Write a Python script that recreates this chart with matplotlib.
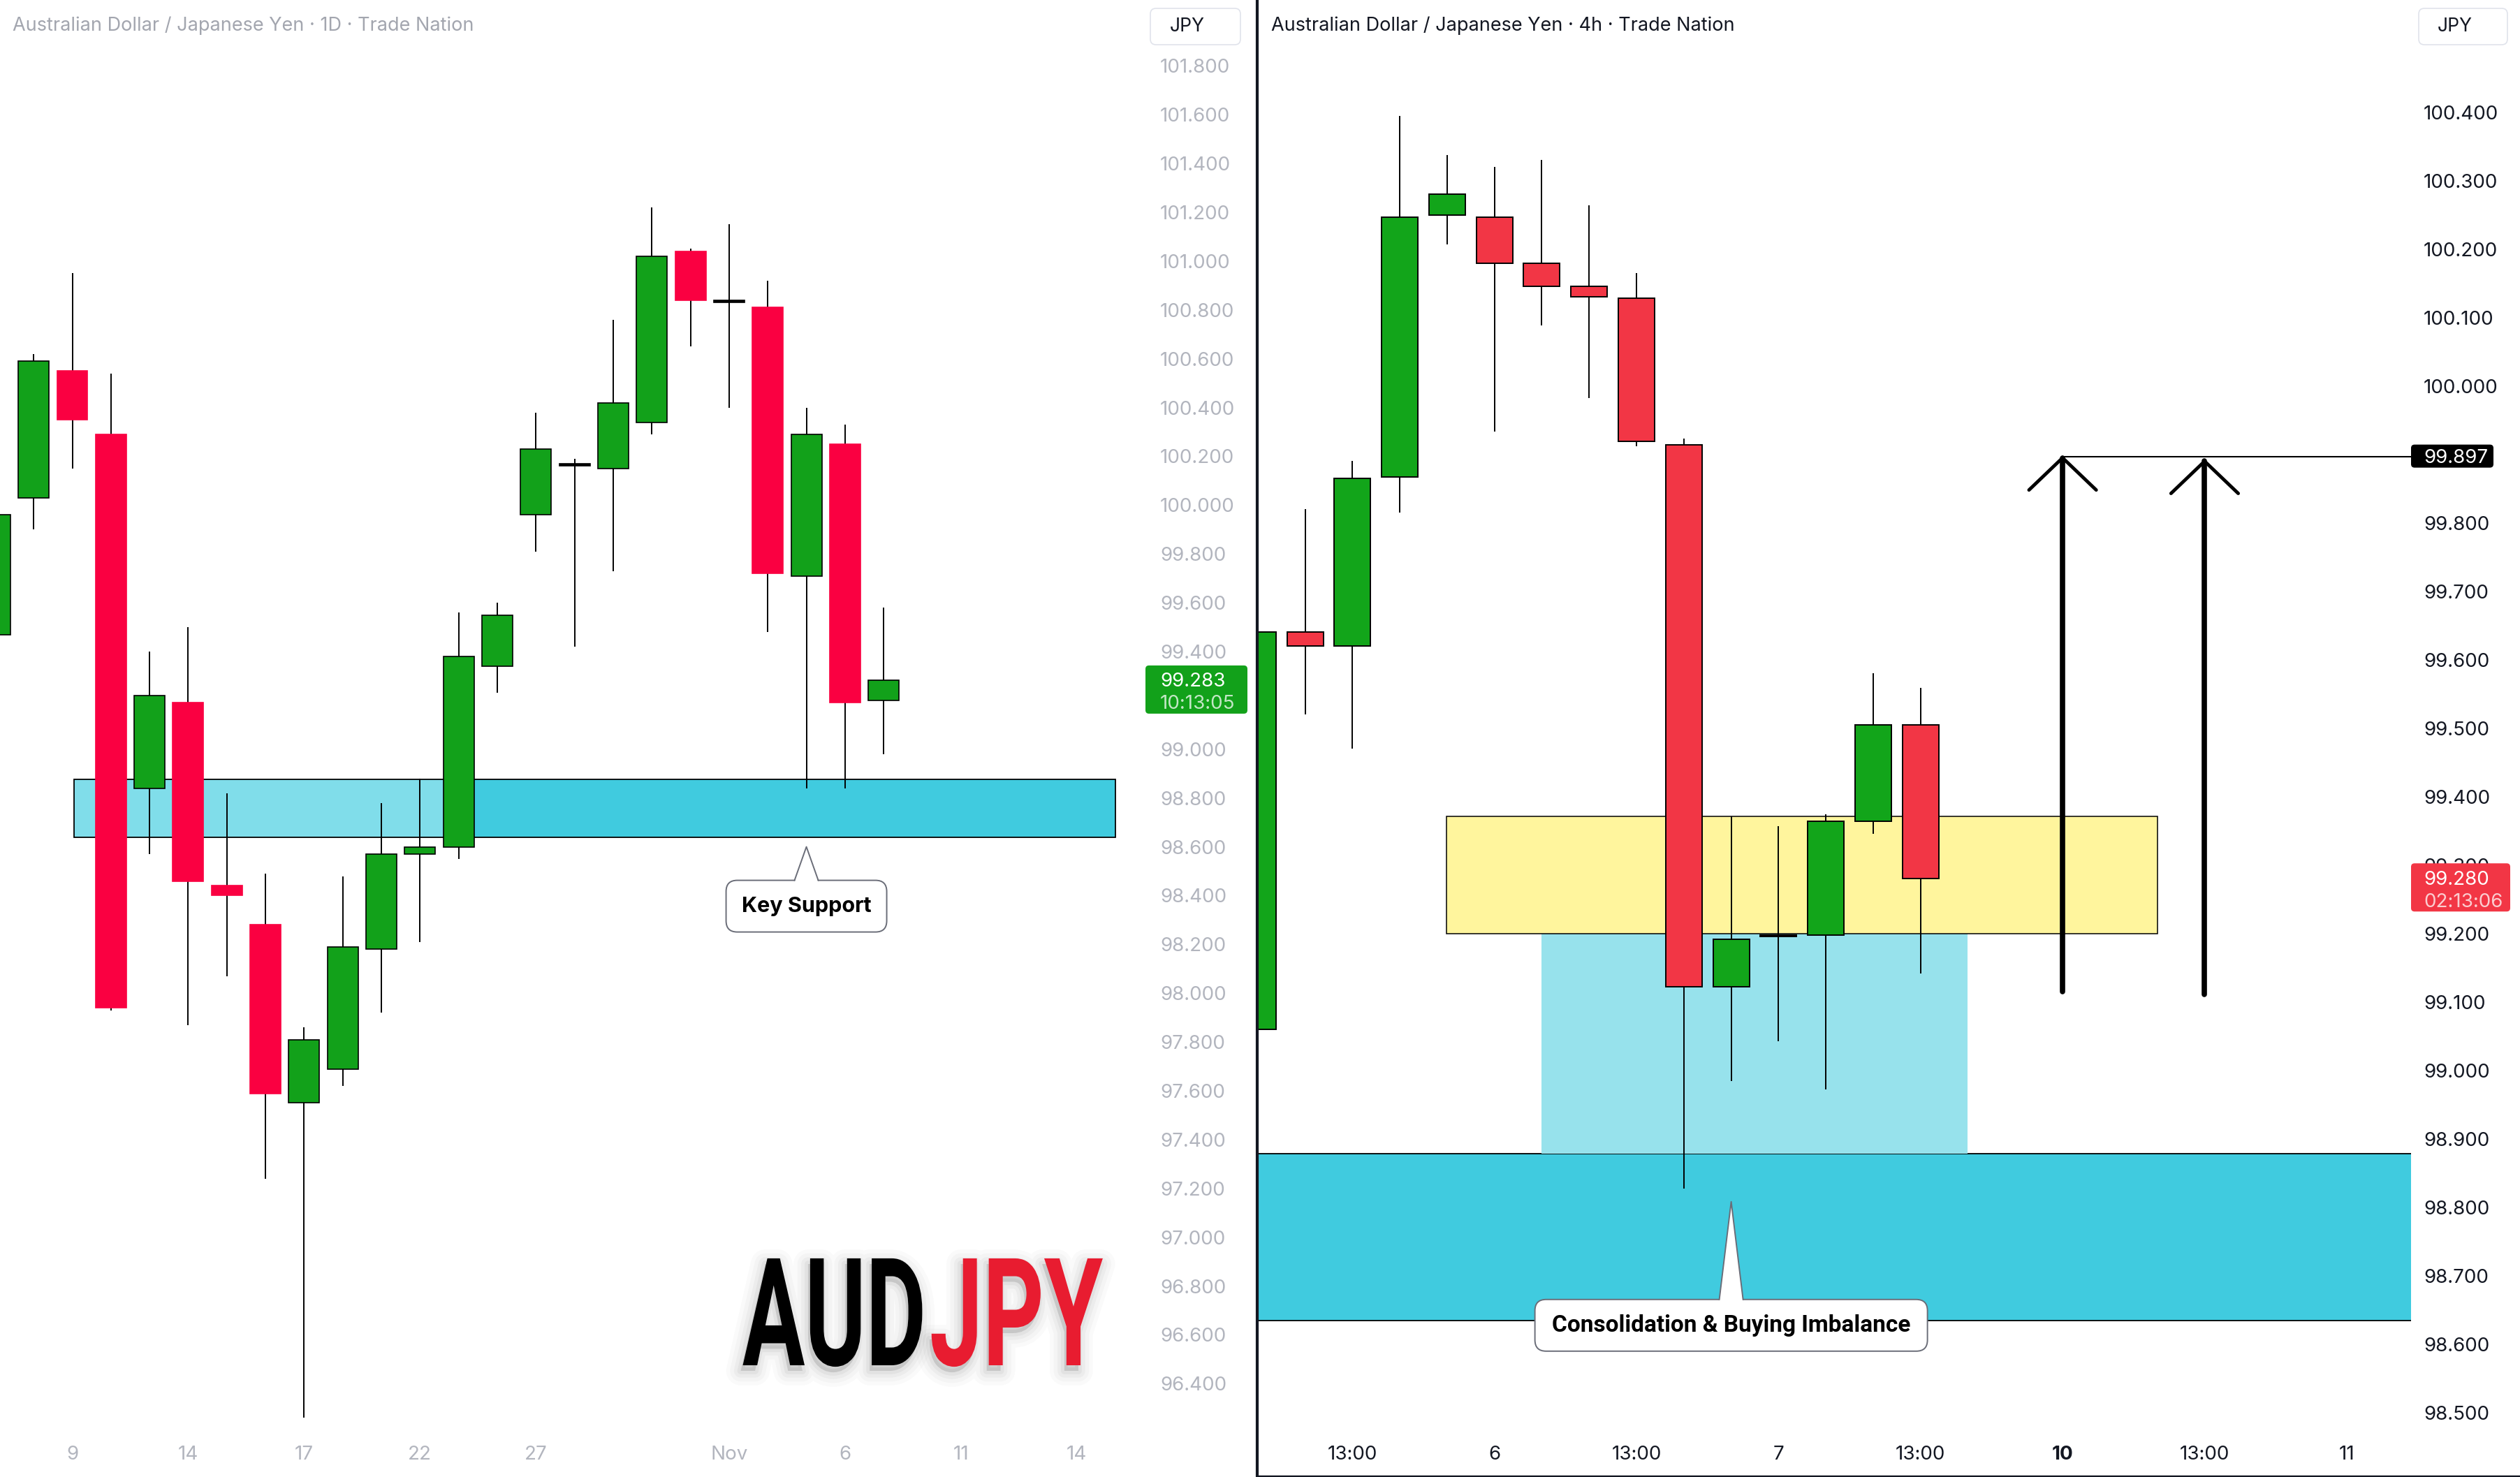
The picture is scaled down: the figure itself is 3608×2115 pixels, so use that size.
import numpy as np
import matplotlib
matplotlib.use("Agg")
import matplotlib.pyplot as plt
from matplotlib.patches import Rectangle, FancyBboxPatch, Polygon
from matplotlib.lines import Line2D
from matplotlib.transforms import IdentityTransform, Affine2D
from matplotlib.patheffects import AbstractPathEffect

# ---------------- data ----------------
# daily candles, bar index 0 = Oct 9
d1_x = list(range(-2, 22))
d1_open = [99.47, 100.03, 100.55, 100.29, 98.84, 99.19, 98.44, 98.28, 97.55, 97.69, 98.18, 98.57,
           98.60, 99.34, 99.96, 100.17, 100.15, 100.34, 101.04, 100.84, 100.81, 99.71, 100.25, 99.20]
d1_high = [100.02, 100.62, 100.95, 100.54, 99.40, 99.50, 98.82, 98.49, 97.86, 98.48, 98.78, 98.88,
           99.56, 99.60, 100.38, 100.19, 100.76, 101.22, 101.05, 101.15, 100.92, 100.40, 100.33, 99.58]
d1_low = [99.40, 99.90, 100.15, 97.93, 98.57, 97.87, 98.07, 97.24, 96.26, 97.62, 97.92, 98.21,
          98.55, 99.23, 99.81, 99.42, 99.73, 100.29, 100.65, 100.40, 99.48, 98.84, 98.84, 98.98]
d1_close = [99.96, 100.59, 100.35, 97.94, 99.22, 98.46, 98.40, 97.59, 97.81, 98.19, 98.57, 98.60,
            99.38, 99.55, 100.23, 100.16, 100.42, 101.02, 100.84, 100.83, 99.72, 100.29, 99.19, 99.283]
d1_tick_pos = [0, 3, 6, 9, 12, 17, 20, 23, 26]
d1_tick_lab = ["9", "14", "17", "22", "27", "Nov", "6", "11", "14"]
d1_prices = np.round(np.arange(96.4, 101.81, 0.2), 1)

# 4h candles, bar index 0 = 13:00 (Nov 5)
h4_x = list(range(-2, 13))
h4_open = [99.06, 99.64, 99.62, 99.867, 100.25, 100.247, 100.179, 100.146, 100.128, 99.914,
           99.122, 99.198, 99.198, 99.364, 99.505]
h4_high = [99.66, 99.82, 99.89, 100.395, 100.337, 100.32, 100.33, 100.264, 100.165, 99.923,
           99.371, 99.357, 99.374, 99.580, 99.559]
h4_low = [99.03, 99.52, 99.47, 99.815, 100.207, 99.933, 100.088, 99.982, 99.912, 98.827,
          98.984, 99.043, 98.972, 99.346, 99.141]
h4_close = [99.64, 99.62, 99.865, 100.247, 100.28, 100.179, 100.146, 100.13, 99.919, 99.122,
            99.191, 99.196, 99.364, 99.505, 99.280]
h4_tick_pos = [0, 3, 6, 9, 12, 15, 18, 21]
h4_tick_lab = ["13:00", "6", "13:00", "7", "13:00", "10", "13:00", "11"]
h4_prices = np.round(np.arange(98.5, 100.41, 0.1), 1)

# zones
d1_zone = (98.639, 98.876)
d1_zone_light_x = (0.04, 9.6)
d1_zone_x = (9.6, 27.0)
h4_yellow = (99.200, 99.371)
h4_yellow_x = (1.99, 17.0)
h4_lightblue = (98.878, 99.200)
h4_lightblue_x = (3.99, 12.99)
h4_cyan = (98.634, 98.878)
target = 99.897
arrow_x = [15, 18]
arrow_from = [99.115, 99.111]
arrow_to = [99.895, 99.890]

W, H = 3608, 2115
DARK = "#131722"
GRAY = "#B2B5BE"

plt.rcParams["font.family"] = ["Inter", "DejaVu Sans"]
fig = plt.figure(figsize=(W / 100, H / 100), dpi=100)
fig.patch.set_facecolor("white")
ID = IdentityTransform()

ax1 = fig.add_axes([0, 62 / H, 1622 / W, 2053 / H])
ax2 = fig.add_axes([1802 / W, 62 / H, 1650 / W, 2053 / H])
ax1.set_xlim(-1.871, 27.45)
ax1.set_ylim(96.195, 102.07)
ax2.set_xlim(-1.982, 22.36)
ax2.set_ylim(98.469, 100.564)


def candles(ax, x, o, h, l, c, width, up, down, left_style):
    o, h, l, c = map(np.asarray, (o, h, l, c))
    rising = c >= o
    ax.vlines(x, l, h, color="black", lw=1.4, zorder=3)
    body = np.maximum(np.abs(c - o), 0.002)
    small = np.abs(c - o) < 0.02
    faces = np.where(rising, up, down)
    if left_style:
        faces = np.where(small, "black", faces)
        edges = ["black" if (r or s) else down for r, s in zip(rising, small)]
        lw = 1.2
    else:
        edges = "black"
        lw = 1.4
    ax.bar(x, body, bottom=np.minimum(o, c), width=width, color=faces,
           edgecolor=edges, linewidth=lw, zorder=4)


# ---------------- left: daily ----------------
ax1.add_patch(Rectangle((d1_zone_light_x[0], d1_zone[0]), d1_zone_light_x[1] - d1_zone_light_x[0],
                        d1_zone[1] - d1_zone[0], fc="#80DDEA", ec="none", zorder=1))
ax1.add_patch(Rectangle((d1_zone_x[0], d1_zone[0]), d1_zone_x[1] - d1_zone_x[0],
                        d1_zone[1] - d1_zone[0], fc="#40CBDF", ec="none", zorder=1))
ax1.add_patch(Rectangle((d1_zone_light_x[0], d1_zone[0]), d1_zone_x[1] - d1_zone_light_x[0],
                        d1_zone[1] - d1_zone[0], fc="none", ec="black", lw=1.3, zorder=2))
candles(ax1, d1_x, d1_open, d1_high, d1_low, d1_close, 0.795, "#12A11A", "#FA0041", True)

# ---------------- right: 4h ----------------
ax2.add_patch(Rectangle((-5, h4_cyan[0]), 40, h4_cyan[1] - h4_cyan[0],
                        fc="#40CBDF", ec="black", lw=1.3, zorder=1))
ax2.add_patch(Rectangle((h4_lightblue_x[0], h4_lightblue[0]), h4_lightblue_x[1] - h4_lightblue_x[0],
                        h4_lightblue[1] - h4_lightblue[0], fc="#97E2EC", ec="none", zorder=1))
ax2.add_patch(Rectangle((h4_yellow_x[0], h4_yellow[0]), h4_yellow_x[1] - h4_yellow_x[0],
                        h4_yellow[1] - h4_yellow[0], fc="#FFF59D", ec="black", lw=1.1, zorder=2))
candles(ax2, h4_x, h4_open, h4_high, h4_low, h4_close, 0.767, "#12A51A", "#F23645", False)

ax2.plot([arrow_x[0], 30], [target, target], color="black", lw=1.5, zorder=5)
for xa, y0, y1 in zip(arrow_x, arrow_from, arrow_to):
    ax2.plot([xa, xa], [y0, y1], color="black", lw=5.5, solid_capstyle="round", zorder=6)
    ax2.plot([xa - 0.71, xa, xa + 0.71], [y1 - 0.047, y1, y1 - 0.047], color="black",
             lw=3.5, solid_capstyle="round", solid_joinstyle="miter", zorder=6)

# ---------------- axes styling ----------------
# the left 99.200 label sits under the live price tag, as in the original
d1_labels = ["" if abs(p - 99.2) < 1e-6 else f"{p:.3f}" for p in d1_prices]
h4_labels = [f"{p:.3f}" for p in h4_prices]
for ax, prices, plabs, pos, lab, col, pad in [
        (ax1, d1_prices, d1_labels, d1_tick_pos, d1_tick_lab, GRAY, 28),
        (ax2, h4_prices, h4_labels, h4_tick_pos, h4_tick_lab, DARK, 13)]:
    for sp in ax.spines.values():
        sp.set_visible(False)
    ax.yaxis.tick_right()
    ax.set_yticks(prices)
    ax.set_yticklabels(plabs)
    ax.set_xticks(pos)
    ax.set_xticklabels(lab)
    ax.tick_params(axis="y", length=0, pad=pad, labelsize=20, labelcolor=col)
    ax.tick_params(axis="x", length=0, pad=12, labelsize=20, labelcolor=col)
for t in ax2.get_xticklabels():
    if t.get_text() == "10":
        t.set_fontweight("bold")

# headers and currency buttons
fig.text(18, H - 37, "Australian Dollar / Japanese Yen \u00b7 1D \u00b7 Trade Nation", transform=ID,
         fontsize=19.5, color="#A3A6AF", va="center", ha="left")
fig.text(1820, H - 37, "Australian Dollar / Japanese Yen \u00b7 4h \u00b7 Trade Nation", transform=ID,
         fontsize=19.5, color=DARK, va="center", ha="left")
for x0, x1 in [(1647, 1776), (3463, 3590)]:
    fig.add_artist(FancyBboxPatch((x0, H - 64), x1 - x0, 52, boxstyle="round,pad=0,rounding_size=8",
                                  transform=ID, fc="white", ec="#E0E3EB", lw=1.2))
    fig.text((x0 + x1) / 2 - 12, H - 38, "JPY", transform=ID, fontsize=19, color=DARK,
             ha="center", va="center")

# pane divider / frame
fig.add_artist(Line2D([1800, 1800], [0, H], transform=ID, color=DARK, lw=3))
fig.add_artist(Line2D([1800, W], [1.5, 1.5], transform=ID, color=DARK, lw=2.5))


# price tags
def price_tag(ax, price, x0, x1, above, below, color, lines, text_x):
    y = ax.transData.transform((0, price))[1]
    fig.add_artist(FancyBboxPatch((x0, y - below), x1 - x0, above + below,
                                  boxstyle="round,pad=0,rounding_size=5", transform=ID,
                                  fc=color, ec="none", zorder=5))
    for k, s in enumerate(lines):
        fig.text(text_x, y - 2 - 32 * k, s, transform=ID, fontsize=20, color="white",
                 alpha=1.0 if k == 0 else 0.75, ha="left", va="center", zorder=6)


price_tag(ax1, d1_close[-1], 1640, 1786, 21, 48, "#12A11A", ["99.283", "10:13:05"], 1661)
price_tag(ax2, h4_close[-1], 3452, 3594, 22, 47, "#F23645", ["99.280", "02:13:06"], 3470)
price_tag(ax2, target, 3452, 3570, 17, 16, "black", ["99.897"], 3470)


# callouts
def callout(ax, xd, yd, gap, w, h, text, fs, family):
    tx, ty = ax.transData.transform((xd, yd))
    top = ty - gap
    fig.add_artist(FancyBboxPatch((tx - w / 2, top - h), w, h, boxstyle="round,pad=0,rounding_size=16",
                                  transform=ID, fc="white", ec="#6A6D78", lw=1.4, zorder=7))
    fig.add_artist(Polygon([(tx - 17, top - 3), (tx, ty), (tx + 17, top - 3)], closed=True,
                           transform=ID, fc="white", ec="none", zorder=8))
    fig.add_artist(Line2D([tx - 17, tx, tx + 17], [top, ty, top], transform=ID,
                          color="#6A6D78", lw=1.4, zorder=9))
    fig.text(tx, top - h / 2, text, transform=ID, fontsize=fs, fontweight="bold", color="black",
             ha="center", va="center", family=family, zorder=10)


callout(ax1, 19, 98.60, 48, 230, 74, "Key Support", 22, ["Inter", "DejaVu Sans"])
callout(ax2, 8, 98.808, 140, 562, 74, "Consolidation & Buying Imbalance", 24, ["Roboto", "DejaVu Sans"])


# AUDJPY logo: real text, squeezed horizontally by a path effect
class Squeeze(AbstractPathEffect):
    def __init__(self, sx, x0):
        super().__init__()
        self.sx, self.x0 = sx, x0

    def draw_path(self, renderer, gc, tpath, affine, rgbFace=None):
        t = affine + Affine2D().translate(-self.x0, 0).scale(self.sx, 1).translate(self.x0, 0)
        for lw, a in [(30, 0.02), (22, 0.025), (14, 0.03), (7, 0.04)]:
            g = renderer.new_gc()
            g.copy_properties(gc)
            g.set_foreground((0, 0, 0))
            g.set_alpha(a)
            g.set_linewidth(lw)
            g.set_joinstyle("round")
            renderer.draw_path(g, tpath, t + Affine2D().translate(-3, -8), (0, 0, 0, a))
            g.restore()
        renderer.draw_path(gc, tpath, t, rgbFace)


renderer = fig.canvas.get_renderer()
logo = [("AUD", 1063, 1326, "black", "left"), ("JPY", 1331, 1579, "#E81C30", "right")]
for s, x0, x1, col, ha in logo:
    t = fig.text(x0 if ha == "left" else x1, H - 1955, s, transform=ID, fontsize=155,
                 fontweight="bold", family=["Roboto", "DejaVu Sans"], color=col,
                 ha=ha, va="baseline", zorder=3)
    bb = t.get_window_extent(renderer)
    anchor = bb.x0 if ha == "left" else bb.x1
    t.set_path_effects([Squeeze((x1 - x0) / bb.width, anchor)])

fig.savefig("out.png", dpi=100, facecolor="white")
